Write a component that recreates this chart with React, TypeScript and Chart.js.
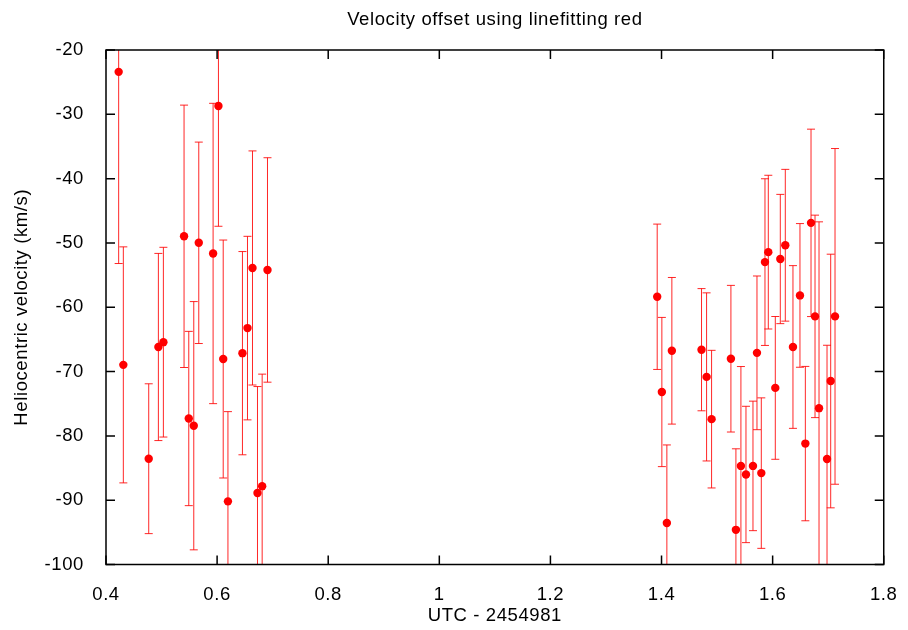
import React, { useEffect, useRef } from "react";
import { Chart, registerables } from "chart.js";

Chart.register(...registerables);

const TITLE = "Velocity offset using linefitting red";
const X_LABEL = "UTC - 2454981";
const Y_LABEL = "Heliocentric velocity (km/s)";

const X_MIN = 0.4;
const X_MAX = 1.8;
const X_STEP = 0.2;
const Y_MIN = -100;
const Y_MAX = -20;
const Y_STEP = 10;

// UTC - 2454981 (days)
const utcOffset = [
  0.4228, 0.4312, 0.4769, 0.4943, 0.5033, 0.5405, 0.549, 0.558, 0.567, 0.5928,
  0.6024, 0.611, 0.6195, 0.6456, 0.6547, 0.6637, 0.6727, 0.6811, 0.6907,
  1.3922, 1.4006, 1.4096, 1.4186, 1.472, 1.4811, 1.4901, 1.5249, 1.5339, 1.5429,
  1.552, 1.5646, 1.5718, 1.5796, 1.5862, 1.5922, 1.6048, 1.6138, 1.6228, 1.6366,
  1.6492, 1.6589, 1.6691, 1.6763, 1.6835, 1.6979, 1.7045, 1.7123,
];

// Heliocentric velocity (km/s)
const velocity = [
  -23.4, -68.96, -83.55, -66.18, -65.43, -48.97, -77.3, -78.42, -49.98, -51.64,
  -28.71, -68.05, -90.18, -67.14, -63.24, -53.89, -88.89, -87.82, -54.2,
  -58.37, -73.18, -93.54, -66.77, -66.6, -70.83, -77.4, -68.0, -94.61, -84.67,
  -86.0, -84.67, -67.09, -85.79, -52.98, -51.43, -72.54, -52.5, -50.36, -66.18,
  -58.16, -81.2, -46.88, -61.42, -75.69, -83.6, -71.47, -61.42,
];

// Velocity uncertainty (km/s, symmetric)
const velocityError = [
  29.8, 18.35, 11.65, 14.55, 14.75, 20.4, 13.55, 19.3, 15.66, 23.35,
  18.7, 18.5, 13.95, 15.8, 14.27, 18.2, 16.56, 17.42, 17.45,
  11.3, 11.6, 12.13, 11.4, 9.5, 13.07, 10.7, 11.4, 12.6, 15.45,
  10.6, 10.07, 11.95, 11.7, 12.96, 11.95, 11.1, 10.05, 11.8, 12.65,
  11.17, 12.0, 14.57, 15.74, 28.97, 17.69, 19.72, 26.1,
];

const FONT = "'Liberation Sans', Arial, Helvetica, sans-serif";
const FONT_SIZE = 18.5;

const textSpacingPlugin = {
  id: "textSpacing",
  beforeDraw(chart: any) {
    try {
      chart.ctx.letterSpacing = "0.6px";
    } catch (e) {
      /* ignore */
    }
  },
};

const errorBarPlugin = {
  id: "errorBars",
  beforeDatasetsDraw(chart: any) {
    const { ctx, chartArea, scales } = chart;
    const xs = scales.x;
    const ys = scales.y;
    ctx.save();
    ctx.beginPath();
    ctx.rect(chartArea.left, chartArea.top, chartArea.right - chartArea.left, chartArea.bottom - chartArea.top);
    ctx.clip();
    ctx.strokeStyle = "rgba(255,0,0,0.85)";
    ctx.lineWidth = 1;
    const cap = 4;
    for (let i = 0; i < utcOffset.length; i++) {
      const px = xs.getPixelForValue(utcOffset[i]);
      const pTop = ys.getPixelForValue(velocity[i] + velocityError[i]);
      const pBot = ys.getPixelForValue(velocity[i] - velocityError[i]);
      ctx.beginPath();
      ctx.moveTo(px, pTop);
      ctx.lineTo(px, pBot);
      ctx.moveTo(px - cap, pTop);
      ctx.lineTo(px + cap, pTop);
      ctx.moveTo(px - cap, pBot);
      ctx.lineTo(px + cap, pBot);
      ctx.stroke();
    }
    ctx.restore();
  },
};

const framePlugin = {
  id: "frameTicks",
  afterDatasetsDraw(chart: any) {
    const { ctx, chartArea, scales } = chart;
    const { left, right, top, bottom } = chartArea;
    const tl = 9;
    ctx.save();
    ctx.strokeStyle = "#000";
    ctx.lineWidth = 1.5;
    ctx.beginPath();
    for (const t of scales.y.ticks) {
      const py = scales.y.getPixelForValue(t.value);
      ctx.moveTo(left, py);
      ctx.lineTo(left + tl, py);
      ctx.moveTo(right, py);
      ctx.lineTo(right - tl, py);
    }
    for (const t of scales.x.ticks) {
      const px = scales.x.getPixelForValue(t.value);
      ctx.moveTo(px, bottom);
      ctx.lineTo(px, bottom - tl);
      ctx.moveTo(px, top);
      ctx.lineTo(px, top + tl);
    }
    ctx.stroke();
    ctx.strokeRect(left, top, right - left, bottom - top);
    ctx.restore();
  },
};

export default function App() {
  const canvasRef = useRef<HTMLCanvasElement | null>(null);

  useEffect(() => {
    if (!canvasRef.current) return;
    const points = utcOffset.map((x, i) => ({ x, y: velocity[i] }));
    const chart = new Chart(canvasRef.current, {
      type: "scatter",
      data: {
        datasets: [
          {
            label: "Velocity",
            data: points,
            backgroundColor: "#ff0000",
            borderColor: "#ff0000",
            borderWidth: 0,
            pointRadius: 4.2,
            pointHoverRadius: 4.2,
          },
        ],
      },
      options: {
        responsive: false,
        animation: false,
        events: [],
        layout: { padding: { left: 0, right: 23, top: 0, bottom: 0 } },
        plugins: {
          legend: { display: false },
          tooltip: { enabled: false },
          title: {
            display: true,
            text: TITLE,
            fullSize: false,
            color: "#000",
            font: { family: FONT, size: FONT_SIZE, weight: "normal" },
            padding: { top: 8.9, bottom: 18.9 },
          },
        },
        scales: {
          x: {
            type: "linear",
            min: X_MIN,
            max: X_MAX,
            afterFit: (s: any) => {
              s.height = 65.5;
            },
            grid: { display: false },
            border: { display: false },
            ticks: {
              stepSize: X_STEP,
              autoSkip: false,
              maxRotation: 0,
              color: "#000",
              padding: 11.4,
              font: { family: FONT, size: FONT_SIZE },
              callback: (v: any) => String(Math.round(Number(v) * 10) / 10),
            },
            title: {
              display: true,
              text: X_LABEL,
              color: "#000",
              font: { family: FONT, size: FONT_SIZE },
              padding: { top: 0, bottom: 3.4 },
            },
          },
          y: {
            type: "linear",
            min: Y_MIN,
            max: Y_MAX,
            afterFit: (s: any) => {
              s.width = 106;
            },
            grid: { display: false },
            border: { display: false },
            ticks: {
              stepSize: Y_STEP,
              autoSkip: false,
              color: "#000",
              padding: 14,
              font: { family: FONT, size: FONT_SIZE },
              callback: (v: any) => String(Math.round(Number(v))),
            },
            title: {
              display: true,
              text: Y_LABEL,
              color: "#000",
              font: { family: FONT, size: FONT_SIZE },
              padding: { top: 10.9, bottom: 0 },
            },
          },
        },
      },
      plugins: [textSpacingPlugin, errorBarPlugin, framePlugin],
    });
    return () => chart.destroy();
  }, []);

  return (
    <div style={{ position: "fixed", left: 0, top: 0, width: 908, height: 630, background: "#fff" }}>
      <canvas ref={canvasRef} width={908} height={630} style={{ display: "block", width: 908, height: 630 }} />
    </div>
  );
}
